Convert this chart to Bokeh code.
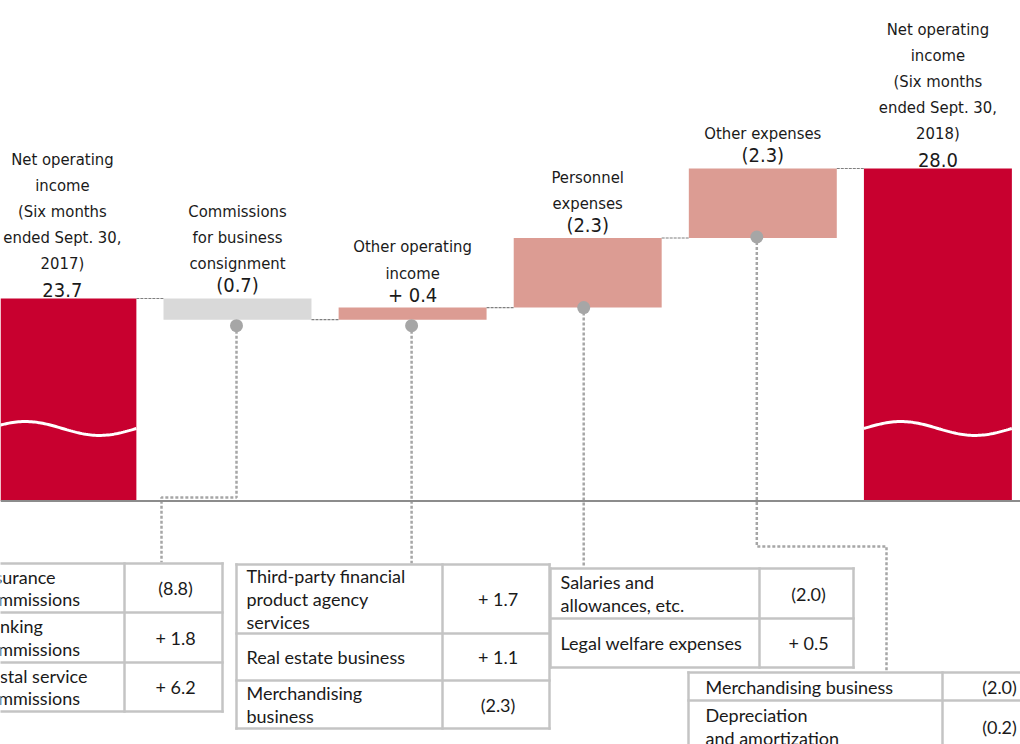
import numpy as np
from bokeh.plotting import figure
from bokeh.models import Range1d, Span
from bokeh.core.properties import value
from bokeh.embed import file_html
from bokeh.resources import INLINE

# ---------------- data ----------------
bar_labels = [
    "Net operating\nincome\n(Six months\nended Sept. 30,\n2017)",
    "Commissions\nfor business\nconsignment",
    "Other operating\nincome",
    "Personnel\nexpenses",
    "Other expenses",
    "Net operating\nincome\n(Six months\nended Sept. 30,\n2018)",
]
bar_kinds = ["total", "decrease", "increase", "increase", "increase", "total"]
bar_values = [23.7, -0.7, 0.4, 2.3, 2.3, 28.0]
value_labels = ["23.7", "(0.7)", "+ 0.4", "(2.3)", "(2.3)", "28.0"]

commission_items = ["Insurance\ncommissions", "Banking\ncommissions", "Postal service\ncommissions"]
commission_values = ["(8.8)", "+ 1.8", "+ 6.2"]
other_income_items = ["Third-party financial\nproduct agency\nservices", "Real estate business", "Merchandising\nbusiness"]
other_income_values = ["+ 1.7", "+ 1.1", "(2.3)"]
personnel_items = ["Salaries and\nallowances, etc.", "Legal welfare expenses"]
personnel_values = ["(2.0)", "+ 0.5"]
other_exp_items = ["Merchandising business", "Depreciation\nand amortization"]
other_exp_values = ["(2.0)", "(0.2)"]

# ---------------- layout / style ----------------
W, H = 1020, 744
Y_TOP, Y_BOT = 33.557, 8.946
X_LEFT, X_RIGHT = -0.3535, 5.4717
BAR_W = 0.845
BASE = 17.0          # broken-axis baseline value
BREAK, AMP = 19.40, 0.23

RED, PINK, GREY = "#C8002F", "#DC9C93", "#D9D9D9"
TXT = "#1a1a1a"
LABEL_FONT = value("Noto Sans Condensed, DejaVu Sans Condensed, sans-serif")
TABLE_FONT = value("Lato")


def px_x(x):
    return (x - X_LEFT) / (X_RIGHT - X_LEFT) * W


def px_y(y):
    return (Y_TOP - y) / (Y_TOP - Y_BOT) * H


p = figure(width=W, height=H, output_backend="svg", toolbar_location=None,
           x_range=Range1d(X_LEFT, X_RIGHT), y_range=Range1d(Y_BOT, Y_TOP),
           x_axis_type=None, y_axis_type=None, min_border=0,
           outline_line_color=None, background_fill_color="white")
p.grid.visible = False
p.extra_x_ranges = {"px": Range1d(0, W)}
p.extra_y_ranges = {"px": Range1d(H, 0)}
PX = dict(x_range_name="px", y_range_name="px")

# ---------------- waterfall ----------------
idx = list(range(len(bar_values)))
bottoms, tops, colors, levels = [], [], [], []
running = 0.0
for k, v in zip(bar_kinds, bar_values):
    if k == "total":
        b, t = BASE, v
        running = v
        colors.append(RED)
    else:
        start, end = running, running + v
        b, t = min(start, end), max(start, end)
        running = end
        colors.append(GREY if k == "decrease" else PINK)
    bottoms.append(b)
    tops.append(t)
    levels.append(running)

p.vbar(x=idx, width=BAR_W, bottom=bottoms, top=tops, fill_color=colors, line_color=None)

# axis baseline
p.add_layout(Span(location=BASE, dimension="width", line_color="#8C8C8C", line_width=2))

# wavy break marks on total bars
for i, k in enumerate(bar_kinds):
    if k == "total":
        t = np.linspace(0, 1, 80)
        xs = i - BAR_W / 2 + BAR_W * t
        ys = BREAK + AMP * np.sin(2 * np.pi * t)
        p.line(xs, ys, line_color="white", line_width=3)

# dashed connectors
p.segment(x0=[i + BAR_W / 2 for i in idx[:-1]], y0=levels[:-1],
          x1=[i + 1 - BAR_W / 2 for i in idx[:-1]], y1=levels[:-1],
          line_color="#7F7F7F", line_width=1.2, line_dash="3 1")

# labels
p.text(x=idx, y=tops, text=value_labels, text_align="center", text_baseline="bottom",
       y_offset=-1, text_font=LABEL_FONT, text_font_size="20px", text_color=TXT)
p.text(x=idx, y=tops, text=bar_labels, text_align="center", text_baseline="bottom",
       y_offset=-25, text_font=LABEL_FONT, text_font_size="16.5px", text_color=TXT,
       text_line_height=1.38)

# ---------------- leader lines + dots ----------------
dot_dx = [-1, -1, -4, -6]
dot_dy = [6, 6, 0, -1]
routes = [
    [("v", 497), ("h", 161), ("v", 562)],
    [("v", 563)],
    [("v", 566)],
    [("v", 546), ("h", 886), ("v", 671)],
]
dxs, dys, lxs, lys = [], [], [], []
for n, bar in enumerate([1, 2, 3, 4]):
    x0 = px_x(bar) + dot_dx[n]
    y0 = px_y(bottoms[bar]) + dot_dy[n]
    dxs.append(x0)
    dys.append(y0)
    xs, ys = [x0], [y0]
    for kind, c in routes[n]:
        if kind == "v":
            xs.append(xs[-1]); ys.append(c)
        else:
            xs.append(c); ys.append(ys[-1])
    lxs.append(xs)
    lys.append(ys)
p.multi_line(lxs, lys, line_color="#A6A6A6", line_width=2.5, line_dash="3 2", **PX)
p.scatter(dxs, dys, size=13, fill_color="#A6A6A6", line_color=None, **PX)

# ---------------- tables ----------------


def draw_table(left, top, col_w, row_h, items, vals, pad=10, fs="18px"):
    right = left + sum(col_w)
    mid = left + col_w[0]
    ys = np.cumsum([top] + row_h).astype(float)
    bottom = ys[-1]
    p.segment(x0=[left] * len(ys), y0=ys, x1=[right] * len(ys), y1=ys,
              line_color="#C4C4C4", line_width=2.5, line_cap="square", **PX)
    p.segment(x0=[left, mid, right], y0=[top] * 3, x1=[left, mid, right], y1=[bottom] * 3,
              line_color="#C4C4C4", line_width=2.5, line_cap="square", **PX)
    centers = (ys[:-1] + ys[1:]) / 2
    n = len(items)
    p.text(x=[left + pad] * n, y=centers, text=items, text_align="left", text_baseline="middle",
           text_font=TABLE_FONT, text_font_size=fs, text_color=TXT, text_line_height=1.04, **PX)
    p.text(x=[mid + col_w[1] / 2 + 2] * n, y=centers, text=vals, text_align="center",
           text_baseline="middle", text_font=TABLE_FONT, text_font_size=fs, text_color=TXT, **PX)


draw_table(-28, 563, [152, 98], [49, 50, 49], commission_items, commission_values, pad=7)
draw_table(236, 564, [206, 107], [69, 47, 48], other_income_items, other_income_values)
draw_table(550, 568, [209, 94], [50, 49], personnel_items, personnel_values)
draw_table(688, 672, [254, 110], [28, 52], other_exp_items, other_exp_values, pad=17)

open("out.html", "w").write(file_html(p, INLINE))
